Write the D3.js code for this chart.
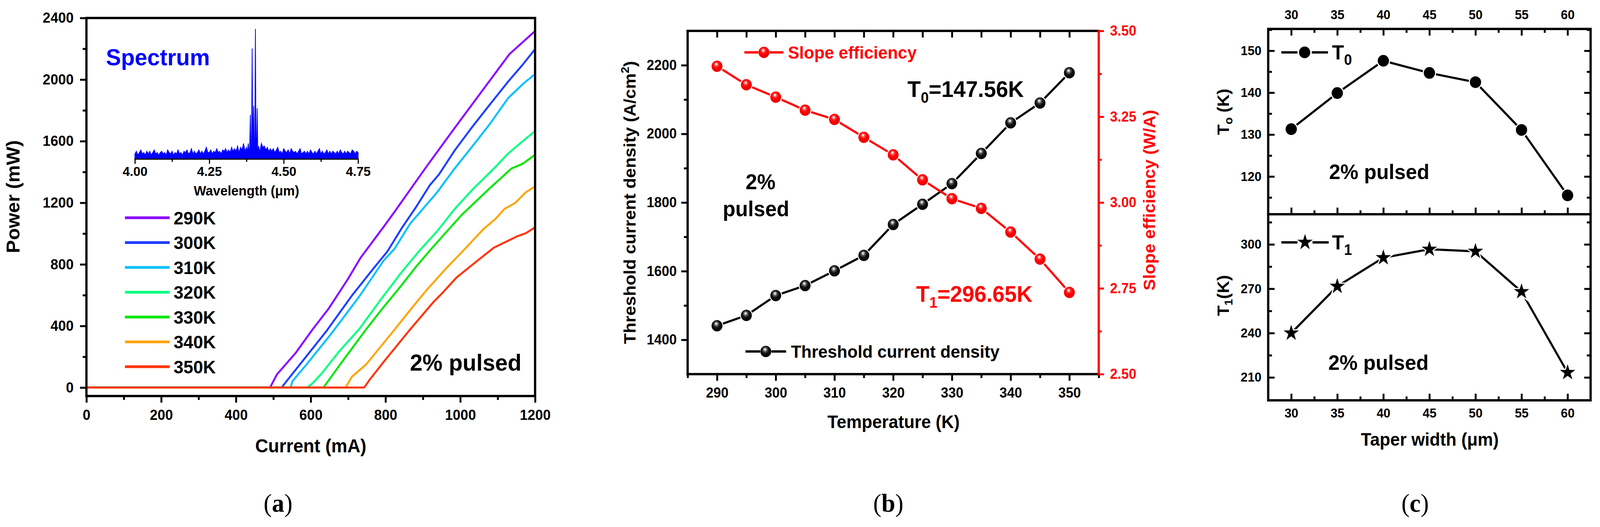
<!DOCTYPE html>
<html>
<head>
<meta charset="utf-8">
<script src="https://cdn.jsdelivr.net/npm/d3@7"></script>
<style>
  html, body { margin: 0; padding: 0; background: #fff; overflow: hidden; }
  #fig { display: block; width: 100vw; height: 100vh; }
  text { font-family: "Liberation Sans", Arial, sans-serif; font-weight: bold; }
  .serif { font-family: "Liberation Serif", "Times New Roman", serif; font-weight: normal; }
</style>
</head>
<body>
<svg id="fig" viewBox="0 0 4258 1348" preserveAspectRatio="none"></svg>
<script>
// ---------- panel (a): L-I curves ----------
const tempLabels = ["290K", "300K", "310K", "320K", "330K", "340K", "350K"];
const tempColors = ["#8a00ff", "#1f3fff", "#00c0ff", "#00ff80", "#00e600", "#ffa500", "#ff3300"];
const liv290 = [[0,0],[491,0],[510,87],[560,226],[605,378],[648,513],[700,707],[733,842],[795,1044],[824,1141],[909,1433],[985,1686],[1071,1968],[1132,2167],[1200,2315]];
const liv300 = [[0,0],[522,0],[539,53],[582,184],[643,370],[710,597],[771,783],[805,884],[843,1034],[881,1170],[919,1316],[943,1384],[985,1540],[1033,1696],[1080,1841],[1128,1987],[1166,2094],[1200,2198]];
const liv310 = [[0,0],[546,0],[551,41],[586,142],[653,344],[729,589],[795,825],[824,901],[866,1065],[938,1268],[985,1423],[1033,1569],[1080,1715],[1128,1880],[1170,1977],[1200,2036]];
const liv320 = [[0,0],[591,0],[605,28],[629,91],[676,235],[729,378],[795,597],[843,749],[890,887],[938,1015],[985,1160],[1033,1287],[1090,1423],[1128,1520],[1166,1598],[1200,1666]];
const liv330 = [[0,0],[634,0],[676,142],[748,378],[786,496],[843,665],[881,783],[919,891],[957,995],[1004,1122],[1080,1297],[1137,1423],[1166,1452],[1200,1511]];
const liv340 = [[0,0],[693,0],[710,70],[748,150],[819,361],[866,504],[909,631],[962,774],[1009,892],[1061,1027],[1094,1095],[1118,1160],[1147,1199],[1175,1268],[1200,1306]];
const liv350 = [[0,0],[743,0],[757,49],[795,167],[866,378],[928,555],[952,614],[990,715],[1033,799],[1090,909],[1151,981],[1175,1002],[1200,1040]];
const livSeries = [liv290, liv300, liv310, liv320, liv330, liv340, liv350];
const currentTicks = [0, 200, 400, 600, 800, 1000, 1200];
const currentMinor = [100, 300, 500, 700, 900, 1100];
const powerTicks = [0, 400, 800, 1200, 1600, 2000, 2400];
const powerMinor = [200, 600, 1000, 1400, 1800, 2200];

// inset spectrum (relative intensity)
const noiseLeft = [0.04,0.06,0.03,0.05,0.07,0.04,0.05,0.03,0.06,0.04,
  0.06,0.03,0.05,0.07,0.04,0.05,0.03,0.05,0.06,0.04,
  0.05,0.03,0.07,0.05,0.04,0.06,0.03,0.05,0.04,0.07,
  0.04,0.05,0.03,0.06,0.05,0.07,0.04,0.05,0.08,0.04,
  0.06,0.04,0.05,0.07,0.04,0.06,0.04,0.06,0.09,0.05,
  0.05,0.07,0.04,0.06,0.05,0.08,0.05,0.06,0.04,0.07,
  0.06,0.08,0.05,0.07,0.05,0.09,0.06,0.08,0.06,0.10,
  0.05,0.09,0.07,0.12,0.06,0.09];
const peakPairs = [[4.378,0.05],[4.381,0.12],[4.384,0.02],[4.386,0.13],[4.388,0.34],[4.390,0.03],[4.392,0.10],
  [4.394,0.85],[4.396,0.03],[4.399,0.41],[4.401,0.03],[4.403,0.12],[4.405,1.0],[4.407,0.03],[4.409,0.10],
  [4.411,0.39],[4.413,0.02],[4.416,0.10],[4.419,0.05]];
const noiseRight = [0.12,0.09,0.10,0.07,0.09,0.06,0.08,0.06,0.08,0.05,
  0.07,0.09,0.05,0.06,0.04,0.08,0.06,0.05,0.07,0.04,
  0.08,0.06,0.05,0.06,0.04,0.06,0.08,0.04,0.05,0.06,
  0.04,0.06,0.04,0.07,0.05,0.04,0.06,0.04,0.06,0.08,
  0.04,0.06,0.04,0.05,0.07,0.04,0.06,0.04,0.06,0.05,
  0.04,0.06,0.04,0.07,0.05,0.04,0.06,0.04,0.06,0.05,
  0.04,0.07,0.06,0.04,0.06,0.05];
const waveTicks = [4.00, 4.25, 4.50, 4.75];
const waveMinor = [4.125, 4.375, 4.625];

// ---------- panel (b): threshold & slope vs temperature ----------
const temps = [290, 295, 300, 305, 310, 315, 320, 325, 330, 335, 340, 345, 350];
const jth = [1441, 1471, 1529, 1558, 1601, 1646, 1736, 1795, 1855, 1943, 2032, 2090, 2178];
const slopeEff = [3.397, 3.343, 3.307, 3.269, 3.242, 3.190, 3.139, 3.066, 3.011, 2.983, 2.914, 2.835, 2.738];
const tempTicks = [290, 300, 310, 320, 330, 340, 350];
const tempMinor = [285, 295, 305, 315, 325, 335, 345, 355];
const jthTicks = [1400, 1600, 1800, 2000, 2200];
const jthMinor = [1500, 1700, 1900, 2100];
const slopeTicks = [2.50, 2.75, 3.00, 3.25, 3.50];
const slopeMinor = [2.625, 2.875, 3.125, 3.375];

// ---------- panel (c): T0, T1 vs taper width ----------
const widths = [30, 35, 40, 45, 50, 55, 60];
const t0 = [131.3, 139.9, 147.6, 144.7, 142.5, 131.1, 115.5];
const t1 = [240.0, 271.6, 291.0, 296.7, 295.3, 268.0, 213.3];
const widthTicks = [30, 35, 40, 45, 50, 55, 60];
const widthMinor = [32.5, 37.5, 42.5, 47.5, 52.5, 57.5];
const t0Ticks = [120, 130, 140, 150];
const t0Minor = [115, 125, 135, 145, 155];
const t1Ticks = [210, 240, 270, 300];
const t1Minor = [225, 255, 285, 315];

const RED = "#ff0000";
const fmtInt = d3.format("d");
const fmt2 = d3.format(".2f");
const svg = d3.select("#fig");
const defs = svg.append("defs");

function ball(id, stops) {
  const g = defs.append("radialGradient").attr("id", id)
    .attr("cx", 0.47).attr("cy", 0.42).attr("r", 0.58).attr("fx", 0.42).attr("fy", 0.3);
  stops.forEach(s => g.append("stop").attr("offset", s[0]).attr("stop-color", s[1]));
}
ball("ballK", [[0, "#ffffff"], [0.12, "#d4d4d4"], [0.3, "#5a5a5a"], [0.55, "#111"], [1, "#000"]]);
ball("ballR", [[0, "#ffffff"], [0.12, "#ffd2d2"], [0.3, "#ff3a3a"], [0.55, "#ff0000"], [1, "#e80000"]]);

function styleAxis(g, size, color, width) {
  g.select(".domain").remove();
  g.selectAll(".tick line").attr("stroke", color).attr("stroke-width", width || 5);
  g.selectAll(".tick text").attr("fill", color).style("font-size", size + "px");
}
function addAxis(axis, tr, size, color, width) {
  const g = svg.append("g").attr("transform", tr).call(axis);
  styleAxis(g, size, color, width);
  return g;
}
function frameLine(x1, y1, x2, y2, color, w) {
  svg.append("line").attr("x1", x1).attr("y1", y1).attr("x2", x2).attr("y2", y2)
    .attr("stroke", color).attr("stroke-width", w || 6).attr("stroke-linecap", "square");
}
function label(x, y, str, size, opts) {
  opts = opts || {};
  return svg.append("text").attr("x", x).attr("y", y).text(str)
    .style("font-size", size + "px").attr("fill", opts.fill || "#000")
    .attr("text-anchor", opts.anchor || "start");
}

// ================= panel (a) =================
const ax = d3.scaleLinear().domain([0, 1200]).range([230, 1424]);
const ay = d3.scaleLinear().domain([-55, 2400]).range([1013, 46]);
const livLine = d3.line().x(d => ax(d[0])).y(d => ay(d[1]));
livSeries.forEach((s, i) => {
  svg.append("path").datum(s).attr("d", livLine).attr("fill", "none")
    .attr("stroke", tempColors[i]).attr("stroke-width", 5).attr("stroke-linejoin", "round");
});
addAxis(d3.axisLeft(ay).tickValues(powerTicks).tickFormat(fmtInt).tickSize(17).tickPadding(17), "translate(230,0)", 37, "#000");
addAxis(d3.axisLeft(ay).tickValues(powerMinor).tickSize(10).tickFormat(""), "translate(230,0)", 37, "#000");
addAxis(d3.axisBottom(ax).tickValues(currentTicks).tickFormat(fmtInt).tickSize(17).tickPadding(18), "translate(0,1013)", 37, "#000");
addAxis(d3.axisBottom(ax).tickValues(currentMinor).tickSize(10).tickFormat(""), "translate(0,1013)", 37, "#000");
svg.append("rect").attr("x", 230).attr("y", 46).attr("width", 1194).attr("height", 967)
  .attr("fill", "none").attr("stroke", "#000").attr("stroke-width", 6);

// inset spectrum
const sx = d3.scaleLinear().domain([4.0, 4.75]).range([359, 953]);
const sy = d3.scaleLinear().domain([0, 1]).range([407, 74]);
const spec = []
  .concat(noiseLeft.map((v, i) => [4.0 + i * (0.375 / (noiseLeft.length - 1)), v]))
  .concat(peakPairs)
  .concat(noiseRight.map((v, i) => [4.425 + i * (0.325 / (noiseRight.length - 1)), v]));
svg.append("path").datum(spec)
  .attr("d", d3.area().x(d => sx(d[0])).y0(sy(0)).y1(d => sy(d[1])))
  .attr("fill", "#0000ff").attr("stroke", "#0000ff").attr("stroke-width", 2);
addAxis(d3.axisBottom(sx).tickValues(waveTicks).tickSize(12).tickPadding(7).tickFormat(fmt2),
  "translate(0,407)", 34, "#000", 3);
addAxis(d3.axisBottom(sx).tickValues(waveMinor).tickSize(7).tickFormat(""), "translate(0,407)", 34, "#000", 3);
frameLine(sx(4.0), 407, sx(4.75), 407, "#000", 3);
label(656, 500, "Wavelength (\u03bcm)", 35, { anchor: "middle" });
label(282, 167, "Spectrum", 60, { fill: "#0000ff" });

// legend
tempLabels.forEach((t, i) => {
  const y = 557 + i * 63.5;
  frameLine(336, y, 448, y, tempColors[i], 7);
  label(462, y + 17, t, 47);
});
label(1091, 948, "2% pulsed", 60);
label(827, 1157, "Current (mA)", 48, { anchor: "middle" });
svg.append("text").attr("transform", "translate(52,503) rotate(-90)").attr("text-anchor", "middle")
  .style("font-size", "50px").text("Power (mW)");

// ================= panel (b) =================
const bx = d3.scaleLinear().domain([285, 355]).range([1830, 2924]);
const byL = d3.scaleLinear().domain([1300, 2300]).range([957, 79]);
const byR = d3.scaleLinear().domain([2.5, 3.5]).range([957, 79]);

addAxis(d3.axisBottom(bx).tickValues(tempTicks).tickFormat(fmtInt).tickSize(17).tickPadding(17), "translate(0,957)", 36, "#000");
addAxis(d3.axisBottom(bx).tickValues(tempMinor).tickSize(10).tickFormat(""), "translate(0,957)", 36, "#000");
addAxis(d3.axisTop(bx).tickValues(tempTicks.concat(tempMinor.slice(1, -1))).tickSize(-17).tickFormat(""), "translate(0,79)", 36, "#000");
addAxis(d3.axisLeft(byL).tickValues(jthTicks).tickFormat(fmtInt).tickSize(17).tickPadding(12), "translate(1830,0)", 36, "#000");
addAxis(d3.axisLeft(byL).tickValues(jthMinor).tickSize(10).tickFormat(""), "translate(1830,0)", 36, "#000");
addAxis(d3.axisRight(byR).tickValues(slopeTicks).tickSize(14).tickPadding(16).tickFormat(fmt2), "translate(2924,0)", 36, RED);
addAxis(d3.axisRight(byR).tickValues(slopeMinor).tickSize(8).tickFormat(""), "translate(2924,0)", 36, RED);
frameLine(1830, 79, 2924, 79, "#000");
frameLine(1830, 79, 1830, 957, "#000");
frameLine(1830, 957, 2924, 957, "#000");
frameLine(2924, 79, 2924, 957, RED);

const jthPts = temps.map((t, i) => [t, jth[i]]);
const slopePts = temps.map((t, i) => [t, slopeEff[i]]);
svg.append("path").datum(jthPts).attr("d", d3.line().x(d => bx(d[0])).y(d => byL(d[1])))
  .attr("fill", "none").attr("stroke", "#000").attr("stroke-width", 5.5);
svg.append("path").datum(slopePts).attr("d", d3.line().x(d => bx(d[0])).y(d => byR(d[1])))
  .attr("fill", "none").attr("stroke", RED).attr("stroke-width", 5.5);
svg.append("g").selectAll("circle").data(jthPts).join("circle")
  .attr("cx", d => bx(d[0])).attr("cy", d => byL(d[1])).attr("r", 14.5)
  .attr("fill", "url(#ballK)").attr("stroke", "#fff").attr("stroke-width", 5).attr("paint-order", "stroke");
svg.append("g").selectAll("circle").data(slopePts).join("circle")
  .attr("cx", d => bx(d[0])).attr("cy", d => byR(d[1])).attr("r", 14.5)
  .attr("fill", "url(#ballR)").attr("stroke", "#fff").attr("stroke-width", 5).attr("paint-order", "stroke");

// legends (b)
frameLine(1984, 134, 2015, 134, RED, 6);
frameLine(2051, 134, 2082, 134, RED, 6);
svg.append("circle").attr("cx", 2033).attr("cy", 134).attr("r", 14.5).attr("fill", "url(#ballR)");
label(2097, 150, "Slope efficiency", 45, { fill: RED });
frameLine(1987, 899, 2020, 899, "#000", 6);
frameLine(2056, 899, 2089, 899, "#000", 6);
svg.append("circle").attr("cx", 2038).attr("cy", 899).attr("r", 14.5).attr("fill", "url(#ballK)");
label(2105, 915, "Threshold current density", 45);

const t0Txt = label(2415, 248, "T", 58);
t0Txt.append("tspan").attr("dy", 15).style("font-size", "38px").text("0");
t0Txt.append("tspan").attr("dy", -15).text("=147.56K");
const t1Txt = label(2438, 772, "T", 58, { fill: RED });
t1Txt.append("tspan").attr("dy", 15).style("font-size", "38px").text("1");
t1Txt.append("tspan").attr("dy", -15).text("=296.65K");
label(2024, 484, "2%", 55, { anchor: "middle" });
label(2012, 553, "pulsed", 55, { anchor: "middle" });
label(2378, 1095, "Temperature (K)", 46, { anchor: "middle" });
const bTitle = svg.append("text").attr("transform", "translate(1691,518) rotate(-90)")
  .attr("text-anchor", "middle").style("font-size", "45px").text("Threshold current density (A/cm");
bTitle.append("tspan").attr("dy", -17).style("font-size", "30px").text("2");
bTitle.append("tspan").attr("dy", 17).text(")");
svg.append("text").attr("transform", "translate(3074,512) rotate(-90)").attr("text-anchor", "middle")
  .attr("fill", RED).style("font-size", "44px").text("Slope efficiency (W/A)");

// ================= panel (c) =================
const cx = d3.scaleLinear().domain([27.5, 62.5]).range([3375, 4233]);
const cyT0 = d3.scaleLinear().domain([111, 155.2]).range([548, 74]);
const cyT1 = d3.scaleLinear().domain([194.5, 320.4]).range([1024, 548]);

addAxis(d3.axisTop(cx).tickValues(widthTicks).tickFormat(fmtInt).tickSize(-17).tickPadding(25), "translate(0,74)", 33, "#000");
addAxis(d3.axisTop(cx).tickValues(widthMinor).tickSize(-10).tickFormat(""), "translate(0,74)", 33, "#000");
addAxis(d3.axisBottom(cx).tickValues(widthTicks).tickSize(-17).tickFormat(""), "translate(0,548)", 33, "#000");
addAxis(d3.axisBottom(cx).tickValues(widthMinor).tickSize(-10).tickFormat(""), "translate(0,548)", 33, "#000");
addAxis(d3.axisBottom(cx).tickValues(widthTicks).tickFormat(fmtInt).tickSize(-17).tickPadding(21), "translate(0,1024)", 33, "#000");
addAxis(d3.axisBottom(cx).tickValues(widthMinor).tickSize(-10).tickFormat(""), "translate(0,1024)", 33, "#000");
addAxis(d3.axisLeft(cyT0).tickValues(t0Ticks).tickFormat(fmtInt).tickSize(-17).tickPadding(18), "translate(3375,0)", 33, "#000");
addAxis(d3.axisLeft(cyT0).tickValues(t0Minor).tickSize(-10).tickFormat(""), "translate(3375,0)", 33, "#000");
addAxis(d3.axisRight(cyT0).tickValues(t0Ticks).tickSize(-17).tickFormat(""), "translate(4233,0)", 33, "#000");
addAxis(d3.axisRight(cyT0).tickValues(t0Minor).tickSize(-10).tickFormat(""), "translate(4233,0)", 33, "#000");
addAxis(d3.axisLeft(cyT1).tickValues(t1Ticks).tickFormat(fmtInt).tickSize(-17).tickPadding(18), "translate(3375,0)", 33, "#000");
addAxis(d3.axisLeft(cyT1).tickValues(t1Minor).tickSize(-10).tickFormat(""), "translate(3375,0)", 33, "#000");
addAxis(d3.axisRight(cyT1).tickValues(t1Ticks).tickSize(-17).tickFormat(""), "translate(4233,0)", 33, "#000");
addAxis(d3.axisRight(cyT1).tickValues(t1Minor).tickSize(-10).tickFormat(""), "translate(4233,0)", 33, "#000");
svg.append("rect").attr("x", 3375).attr("y", 74).attr("width", 858).attr("height", 950)
  .attr("fill", "none").attr("stroke", "#000").attr("stroke-width", 6);
frameLine(3375, 548, 4233, 548, "#000", 6);

const t0Pts = widths.map((w, i) => [w, t0[i]]);
const t1Pts = widths.map((w, i) => [w, t1[i]]);
svg.append("path").datum(t0Pts).attr("d", d3.line().x(d => cx(d[0])).y(d => cyT0(d[1])))
  .attr("fill", "none").attr("stroke", "#000").attr("stroke-width", 5.5);
svg.append("path").datum(t1Pts).attr("d", d3.line().x(d => cx(d[0])).y(d => cyT1(d[1])))
  .attr("fill", "none").attr("stroke", "#000").attr("stroke-width", 5.5);
svg.append("g").selectAll("circle").data(t0Pts).join("circle")
  .attr("cx", d => cx(d[0])).attr("cy", d => cyT0(d[1])).attr("r", 15)
  .attr("fill", "#000").attr("stroke", "#fff").attr("stroke-width", 6).attr("paint-order", "stroke");
const star = d3.symbol().type(d3.symbolStar).size(520);
svg.append("g").selectAll("path").data(t1Pts).join("path")
  .attr("transform", d => `translate(${cx(d[0])},${cyT1(d[1])})`).attr("d", star)
  .attr("fill", "#000").attr("stroke", "#fff").attr("stroke-width", 6).attr("paint-order", "stroke");

// legends (c)
frameLine(3413, 134, 3450, 134, "#000", 6);
frameLine(3494, 134, 3531, 134, "#000", 6);
svg.append("circle").attr("cx", 3472).attr("cy", 134).attr("r", 15).attr("fill", "#000");
const lg0 = label(3545, 152, "T", 52);
lg0.append("tspan").attr("dy", 14).style("font-size", "38px").text("0");
frameLine(3413, 620, 3450, 620, "#000", 6);
frameLine(3496, 620, 3533, 620, "#000", 6);
svg.append("path").attr("transform", "translate(3473,620)").attr("d", star).attr("fill", "#000");
const lg1 = label(3545, 638, "T", 52);
lg1.append("tspan").attr("dy", 14).style("font-size", "38px").text("1");
label(3537, 458, "2% pulsed", 54);
label(3535, 946, "2% pulsed", 54);
label(3805, 1140, "Taper width (\u03bcm)", 46, { anchor: "middle" });
const c0 = svg.append("text").attr("transform", "translate(3270,286) rotate(-90)")
  .attr("text-anchor", "middle").style("font-size", "44px").text("T");
c0.append("tspan").attr("dy", 10).style("font-size", "30px").text("o");
c0.append("tspan").attr("dy", -10).text(" (K)");
const c1 = svg.append("text").attr("transform", "translate(3270,756) rotate(-90)")
  .attr("text-anchor", "middle").style("font-size", "44px").text("T");
c1.append("tspan").attr("dy", 10).style("font-size", "30px").text("1");
c1.append("tspan").attr("dy", -10).text("(K)");

// ---- panel letters ----
[["a", 740], ["b", 2364], ["c", 3766]].forEach(p => {
  const t = svg.append("text").attr("class", "serif").attr("x", p[1]).attr("y", 1309)
    .attr("text-anchor", "middle").style("font-size", "66px").text("(");
  t.append("tspan").style("font-weight", "bold").text(p[0]);
  t.append("tspan").text(")");
});
</script>
</body>
</html>
